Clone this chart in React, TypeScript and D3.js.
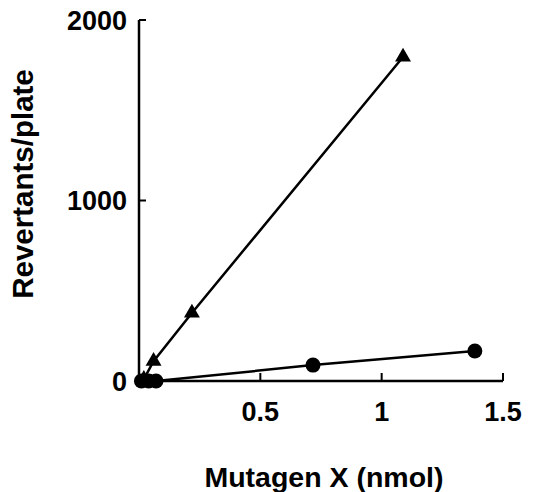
import React from "react";
import * as d3 from "d3";

const circleX = [0.01, 0.04, 0.07, 0.717, 1.384];
const circleY = [0, 0, 0, 88, 166];
const triX = [0.02, 0.06, 0.218, 1.088];
const triY = [10, 110, 377, 1795];
const xTicks = [0.5, 1, 1.5];
const xTickLabels = ["0.5", "1", "1.5"];
const yTicks = [0, 1000, 2000];
const yTickLabels = ["0", "1000", "2000"];

const W = 541, H = 492;
const FONT = "'Liberation Sans', Arial, sans-serif";

export default function App() {
  const x = d3.scaleLinear().domain([0, 1.5]).range([139, 503]);
  const y = d3.scaleLinear().domain([0, 2000]).range([381, 20]);
  const line = d3.line<[number, number]>().x(d => x(d[0])).y(d => y(d[1]));
  const circ = circleX.map((v, i) => [v, circleY[i]] as [number, number]);
  const tri = triX.map((v, i) => [v, triY[i]] as [number, number]);
  const triPath = d3.symbol().type(d3.symbolTriangle).size(110)()!;
  return (
    <svg width={W} height={H} style={{ position: "absolute", left: 0, top: 0, background: "#fff" }}>
      <g stroke="#000" strokeWidth={2.5} fill="none">
        <line x1={x(0)} x2={x(1.5)} y1={y(0)} y2={y(0)} />
        <line x1={x(0)} x2={x(0)} y1={y(0)} y2={y(2000)} />
        {xTicks.map(t => <line key={t} x1={x(t)} x2={x(t)} y1={y(0)} y2={y(0) - 8} strokeWidth={2} />)}
        {yTicks.map(t => <line key={t} x1={x(0)} x2={x(0) + 7} y1={y(t)} y2={y(t)} strokeWidth={2} />)}
        <path d={line(circ)!} />
        <path d={line(tri)!} />
      </g>
      {circ.map((d, i) => <circle key={i} cx={x(d[0])} cy={y(d[1])} r={7.5} fill="#000" />)}
      {tri.map((d, i) => <path key={i} d={triPath} transform={`translate(${x(d[0])},${y(d[1])})`} fill="#000" />)}
      <g fontFamily={FONT} fontWeight="bold" fontSize={27} fill="#000">
        {yTicks.map((t, i) => (
          <text key={t} x={127} y={y(t)} dy="0.36em" textAnchor="end">{yTickLabels[i]}</text>
        ))}
        {xTicks.map((t, i) => (
          <text key={t} x={x(t)} y={421} textAnchor="middle">{xTickLabels[i]}</text>
        ))}
        <text x={324} y={487} textAnchor="middle" fontSize={28.5}>Mutagen X (nmol)</text>
        <text transform="translate(33,184) rotate(-90)" textAnchor="middle" fontSize={29.5}>Revertants/plate</text>
      </g>
    </svg>
  );
}
